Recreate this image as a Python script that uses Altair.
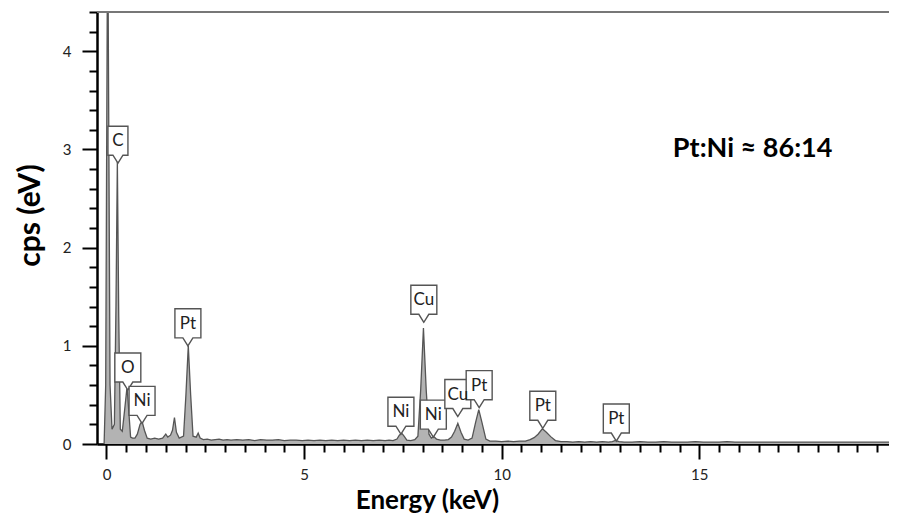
import altair as alt
import pandas as pd

# ---- spectrum (energy keV, cps) ----
energy = [-0.06, -0.02, 0.03, 0.09, 0.14, 0.20, 0.24, 0.275, 0.31, 0.35, 0.40, 0.46, 0.52, 0.57, 0.61,
          0.66, 0.72, 0.78, 0.85, 0.90, 0.96, 1.03, 1.12, 1.22, 1.32, 1.42, 1.50, 1.55, 1.62, 1.67,
          1.72, 1.77, 1.84, 1.95, 2.01, 2.07, 2.13, 2.19, 2.27, 2.32, 2.37, 2.45, 2.55, 2.65, 2.75,
          2.85, 2.95, 3.05, 3.15, 3.30, 3.45, 3.60, 3.75, 3.90, 4.05, 4.20, 4.35, 4.50, 4.65, 4.80,
          4.95, 5.10, 5.25, 5.40, 5.55, 5.70, 5.85, 6.00, 6.15, 6.30, 6.45, 6.60, 6.75, 6.90, 7.05,
          7.15, 7.25, 7.35, 7.41, 7.47, 7.53, 7.60, 7.70, 7.80, 7.88, 7.95, 8.02, 8.09, 8.16, 8.22,
          8.28, 8.35, 8.45, 8.55, 8.65, 8.73, 8.81, 8.89, 8.97, 9.05, 9.15, 9.25, 9.34, 9.42, 9.50,
          9.60, 9.70, 9.85, 10.00, 10.15, 10.30, 10.45, 10.60, 10.72, 10.82, 10.92, 11.03, 11.13, 11.24, 11.36,
          11.50, 11.65, 11.80, 11.95, 12.10, 12.25, 12.40, 12.55, 12.70, 12.80, 12.88, 12.97, 13.10, 13.30, 13.50,
          13.70, 13.90, 14.10, 14.30, 14.50, 14.70, 14.90, 15.10, 15.30, 15.50, 15.70, 15.90, 16.10, 16.30, 16.50,
          16.70, 16.90, 17.10, 17.30, 17.50, 17.70, 17.90, 18.10, 18.30, 18.50, 18.70, 18.90, 19.10, 19.30, 19.50,
          19.70, 19.80]
cps = [0.0, 0.6, 5.5, 0.6, 0.15, 0.2, 1.4, 2.88, 1.3, 0.15, 0.13, 0.35, 0.58, 0.3, 0.07,
       0.06, 0.06, 0.1, 0.2, 0.23, 0.14, 0.06, 0.05, 0.06, 0.05, 0.06, 0.1, 0.07, 0.09, 0.14,
       0.27, 0.12, 0.06, 0.08, 0.5, 1.0, 0.5, 0.08, 0.07, 0.11, 0.06, 0.045, 0.05, 0.04, 0.045,
       0.05, 0.04, 0.045, 0.04, 0.045, 0.04, 0.045, 0.035, 0.045, 0.04, 0.04, 0.045, 0.035, 0.04, 0.04,
       0.035, 0.04, 0.035, 0.04, 0.035, 0.04, 0.035, 0.04, 0.035, 0.04, 0.035, 0.04, 0.035, 0.04, 0.035,
       0.04, 0.035, 0.05, 0.09, 0.11, 0.08, 0.04, 0.035, 0.045, 0.08, 0.55, 1.18, 0.55, 0.1, 0.06,
       0.075, 0.05, 0.04, 0.04, 0.045, 0.07, 0.13, 0.21, 0.12, 0.05, 0.04, 0.06, 0.22, 0.35, 0.22,
       0.05, 0.03, 0.03, 0.025, 0.03, 0.025, 0.03, 0.03, 0.045, 0.065, 0.1, 0.155, 0.12, 0.075, 0.035,
       0.025, 0.025, 0.02, 0.025, 0.02, 0.025, 0.02, 0.025, 0.02, 0.025, 0.037, 0.025, 0.02, 0.02, 0.025,
       0.02, 0.02, 0.025, 0.02, 0.02, 0.02, 0.025, 0.02, 0.02, 0.02, 0.025, 0.02, 0.02, 0.02, 0.02,
       0.02, 0.02, 0.02, 0.02, 0.02, 0.02, 0.02, 0.02, 0.02, 0.02, 0.02, 0.02, 0.02, 0.02, 0.02,
       0.02, 0.02]

# ---- peak labels (tip position of each callout) ----
label_text = ["C", "O", "Ni", "Pt", "Ni", "Cu", "Ni", "Cu", "Pt", "Pt", "Pt"]
label_x = [0.29, 0.54, 0.90, 2.06, 7.45, 8.03, 8.27, 8.89, 9.43, 11.04, 12.90]
label_y = [2.86, 0.55, 0.21, 1.00, 0.10, 1.24, 0.07, 0.28, 0.37, 0.16, 0.03]
label_kind = ["n", "w", "w", "w", "w", "w", "w", "w", "w", "w", "w"]

# ---- annotation ----
note_text = ["Pt:Ni \u2248 86:14"]
note_x = [16.35]
note_y = [3.0]

# ---- axes ----
x_domain = [-0.24, 19.8]
y_domain = [0, 4.4]
x_ticks = [i * 0.5 for i in range(0, 40)]
y_ticks = [round(i * 0.2, 1) for i in range(0, 23)]

spec = pd.DataFrame({"E": energy, "cps": cps})
labels = pd.DataFrame({"t": label_text, "E": label_x, "cps": label_y, "k": label_kind})
notes = pd.DataFrame({"t": note_text, "E": note_x, "cps": note_y})

TITLE_FONT = "Lato"
TICK_FONT = "Lato"

x_axis = alt.Axis(
    values=x_ticks, tickCount=200,
    labelExpr="datum.value % 5 === 0 ? format(datum.value, 'd') : ''",
    tickSize={"condition": {"test": "datum.value % 5 === 0", "value": 15}, "value": 8},
    tickWidth=2, tickColor="black", domainWidth=2.5, domainColor="black",
    grid=False, labelFont=TICK_FONT, labelFontSize=15, labelColor="#222",
    labelPadding=8, labelFlush=False, labelOverlap=False,
    title="Energy (keV)", titleFont=TITLE_FONT, titleFontSize=26, titleFontWeight="bold",
    titleColor="black", titleX=330, titleY=64, titleBaseline="alphabetic", titleAlign="center",
)
y_axis = alt.Axis(
    values=y_ticks, tickCount=200,
    labelExpr="abs(datum.value - round(datum.value)) < 0.001 ? format(datum.value, 'd') : ''",
    tickSize={"condition": {"test": "abs(datum.value - round(datum.value)) < 0.001", "value": 15}, "value": 8},
    tickWidth=2, tickColor="black", domainWidth=2.5, domainColor="black",
    grid=False, labelFont=TICK_FONT, labelFontSize=15, labelColor="#222",
    labelPadding=11, labelFlush=False, labelOverlap=False,
    title="cps (eV)", titleFont=TITLE_FONT, titleFontSize=30, titleFontWeight="bold",
    titleColor="black", titleX=-58, titleY=203, titleBaseline="alphabetic", titleAlign="center",
)

xs = alt.Scale(domain=x_domain, nice=False, zero=False)
ys = alt.Scale(domain=y_domain, nice=False)

area = alt.Chart(spec).mark_area(
    color="#b3b3b3", opacity=1, clip=True, interpolate="linear",
    line={"color": "#555555", "strokeWidth": 1.3},
).encode(
    x=alt.X("E:Q", scale=xs, axis=x_axis),
    y=alt.Y("cps:Q", scale=ys, axis=y_axis),
)

top_rule = alt.Chart(pd.DataFrame({"v": [y_domain[1]]})).mark_rule(
    color="#777", strokeWidth=2
).encode(y=alt.Y("v:Q", scale=ys))

S = 37.0
def box_path(half):
    h = half / S
    p = 5 / S
    b = 8 / S
    return (f"M0,0 L{-p:.3f},{-b:.3f} L{-h:.3f},{-b:.3f} L{-h:.3f},-1 "
            f"L{h:.3f},-1 L{h:.3f},{-b:.3f} L{p:.3f},{-b:.3f} Z")

boxes = alt.Chart(labels).mark_point(
    filled=True, fill="white", stroke="#555", strokeWidth=1.4,
    fillOpacity=1, strokeOpacity=1, size=(2 * S) ** 2,
).encode(
    x=alt.X("E:Q", scale=xs),
    y=alt.Y("cps:Q", scale=ys),
    shape=alt.Shape("k:N", scale=alt.Scale(domain=["n", "w"], range=[box_path(10), box_path(13)]), legend=None),
)

box_text = alt.Chart(labels).mark_text(
    dy=-22, fontSize=17, font=TICK_FONT, color="#222", baseline="middle", align="center"
).encode(
    x=alt.X("E:Q", scale=xs),
    y=alt.Y("cps:Q", scale=ys),
    text="t:N",
)

note = alt.Chart(notes).mark_text(
    fontSize=27, font=TITLE_FONT, fontWeight="bold", color="black", baseline="middle", align="center"
).encode(
    x=alt.X("E:Q", scale=xs),
    y=alt.Y("cps:Q", scale=ys),
    text="t:N",
)

chart = alt.layer(area, top_rule, boxes, box_text, note).properties(
    width=792, height=432,
    autosize=alt.AutoSizeParams(type="none"),
    padding={"left": 89, "top": 4, "right": 0, "bottom": 69},
    background="white",
).configure_view(stroke=None)

chart.save("out.html", embed_options={"renderer": "svg", "actions": False})
